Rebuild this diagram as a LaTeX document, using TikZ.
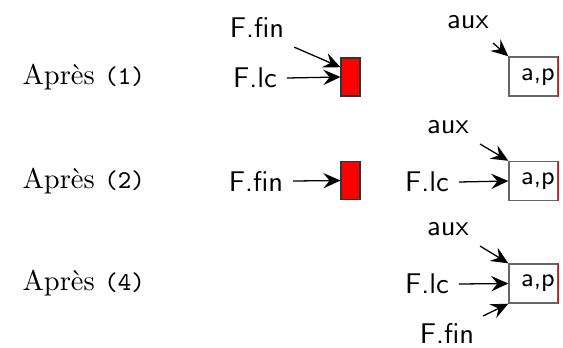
\documentclass[tikz,border=0pt]{standalone}
\usepackage{fontspec}
\usetikzlibrary{arrows.meta,calc}
\begin{document}
\begin{tikzpicture}[x=0.3509pt,y=-0.3509pt,
  lbl/.style={font=\sffamily},
  row/.style={anchor=west,inner sep=0pt},
  redbox/.style={draw=black!80,fill=red,minimum width=19*0.3509pt,minimum height=38*0.3509pt,inner sep=0pt},
  cell/.style={draw=black!60,line width=0.5pt,minimum width=49*0.3509pt,minimum height=39*0.3509pt,inner sep=0pt},
  ptr/.style={-{Stealth[length=6pt,width=5.4pt,inset=2.2pt]},line width=0.45pt}]
\useasboundingbox (0,0) rectangle (563,347);
% row labels
\node[row] (r1) at (22,77) {Après {\small\ttfamily(1)}};
\node[row] (r2) at (22,181) {Après {\small\ttfamily(2)}};
\node[row] (r3) at (22,283) {Après {\small\ttfamily(4)}};
% row 1
\node[redbox] (rb1) at (350.5,77) {};
\node[lbl] (flc1) at (255,78) {F.lc};
\node[lbl] (ffin1) at (257,27) {F.fin};
\draw[ptr] (flc1.east) -- (rb1.west);
\draw[ptr] (ffin1.south east) -- ($(rb1.north west)!0.25!(rb1.south west)$);
\node[cell] (c1) at (533.5,76.5) {};
\node[font=\sffamily\small] (t1) at (538,77) {a,p};
\draw[red,line width=0.4pt] (c1.north east) -- (c1.south east);
\node[lbl] (aux1) at (468,22) {aux};
\coordinate (a1s) at (493,43);
\draw[ptr] (a1s) -- (c1.north west);
% row 2
\node[redbox] (rb2) at (350.5,180.5) {};
\node[lbl] (ffin2) at (256,181) {F.fin};
\draw[ptr] (ffin2.east) -- (rb2.west);
\node[cell] (c2) at (533.5,181) {};
\node[font=\sffamily\small] (t2) at (538,181) {a,p};
\draw[red,line width=0.4pt] (c2.north east) -- (c2.south east);
\node[lbl] (aux2) at (448,127) {aux};
\coordinate (a2s) at (480,144);
\draw[ptr] (a2s) -- (c2.north west);
\node[lbl] (flc2) at (427,182) {F.lc};
\draw[ptr] (flc2.east) -- (c2.west);
% row 3
\node[cell] (c3) at (533.5,283.5) {};
\node[font=\sffamily\small] (t3) at (538,283) {a,p};
\draw[red,line width=0.4pt] (c3.north east) -- (c3.south east);
\node[lbl] (aux3) at (448,229) {aux};
\coordinate (a3s) at (480,246);
\draw[ptr] (a3s) -- (c3.north west);
\node[lbl] (flc3) at (427,284) {F.lc};
\draw[ptr] (flc3.east) -- (c3.west);
\node[lbl] (ffin3) at (447,333) {F.fin};
\coordinate (f3s) at (483,316);
\draw[ptr] (f3s) -- (c3.south west);
\end{tikzpicture}
\end{document}
